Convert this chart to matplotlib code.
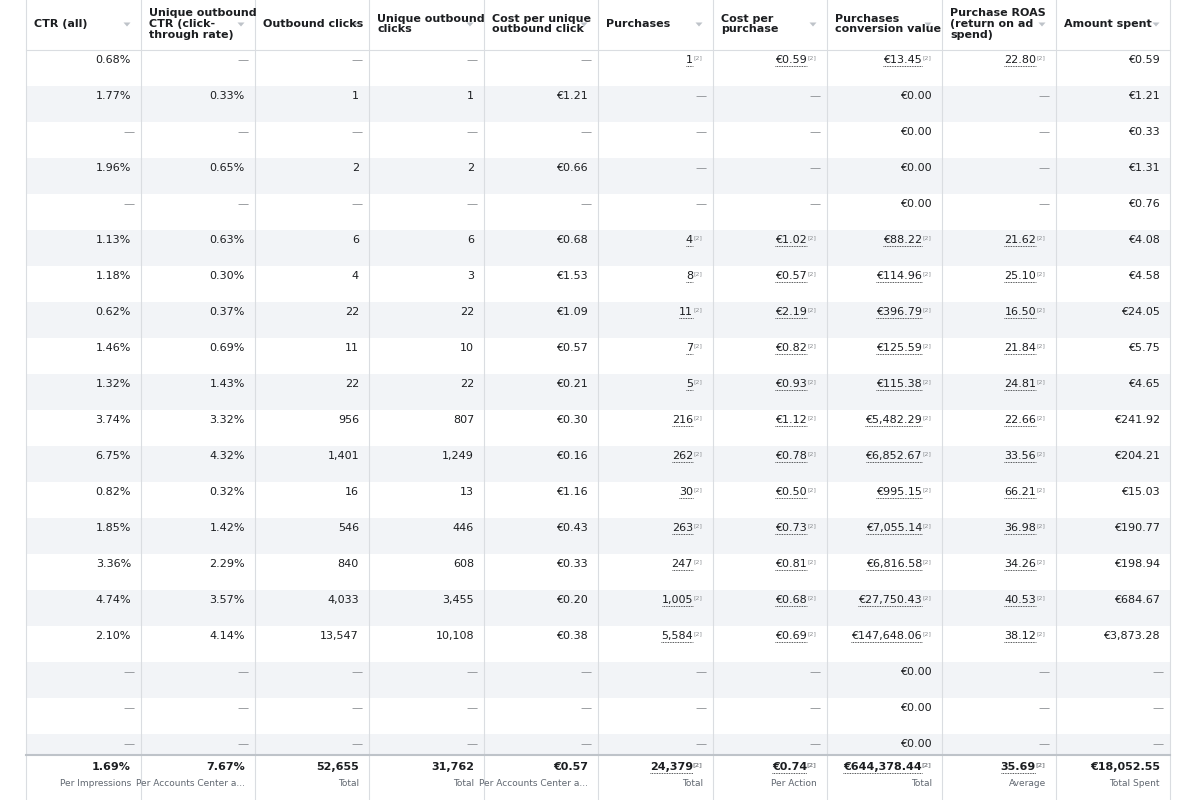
import matplotlib
matplotlib.use("Agg")
import matplotlib.pyplot as plt

# ---------------- DATA ----------------
headers = ["CTR (all)", "Unique outbound\nCTR (click-\nthrough rate)", "Outbound clicks",
           "Unique outbound\nclicks", "Cost per unique\noutbound click", "Purchases",
           "Cost per\npurchase", "Purchases\nconversion value",
           "Purchase ROAS\n(return on ad\nspend)", "Amount spent"]

D = "—"
ctr_all = ["0.68%", "1.77%", D, "1.96%", D, "1.13%", "1.18%", "0.62%", "1.46%", "1.32%",
           "3.74%", "6.75%", "0.82%", "1.85%", "3.36%", "4.74%", "2.10%", D, D, D]
uniq_ctr = [D, "0.33%", D, "0.65%", D, "0.63%", "0.30%", "0.37%", "0.69%", "1.43%",
            "3.32%", "4.32%", "0.32%", "1.42%", "2.29%", "3.57%", "4.14%", D, D, D]
out_clicks = [D, "1", D, "2", D, "6", "4", "22", "11", "22", "956", "1,401", "16", "546",
              "840", "4,033", "13,547", D, D, D]
uniq_out = [D, "1", D, "2", D, "6", "3", "22", "10", "22", "807", "1,249", "13", "446",
            "608", "3,455", "10,108", D, D, D]
cost_uniq = [D, "€1.21", D, "€0.66", D, "€0.68", "€1.53", "€1.09", "€0.57", "€0.21",
             "€0.30", "€0.16", "€1.16", "€0.43", "€0.33", "€0.20", "€0.38", D, D, D]
purchases = ["1", D, D, D, D, "4", "8", "11", "7", "5", "216", "262", "30", "263", "247",
             "1,005", "5,584", D, D, D]
cost_purch = ["€0.59", D, D, D, D, "€1.02", "€0.57", "€2.19", "€0.82", "€0.93", "€1.12",
              "€0.78", "€0.50", "€0.73", "€0.81", "€0.68", "€0.69", D, D, D]
conv_value = ["€13.45", "€0.00", "€0.00", "€0.00", "€0.00", "€88.22", "€114.96", "€396.79",
              "€125.59", "€115.38", "€5,482.29", "€6,852.67", "€995.15", "€7,055.14",
              "€6,816.58", "€27,750.43", "€147,648.06", "€0.00", "€0.00", "€0.00"]
roas = ["22.80", D, D, D, D, "21.62", "25.10", "16.50", "21.84", "24.81", "22.66", "33.56",
        "66.21", "36.98", "34.26", "40.53", "38.12", D, D, D]
spent = ["€0.59", "€1.21", "€0.33", "€1.31", "€0.76", "€4.08", "€4.58", "€24.05", "€5.75",
         "€4.65", "€241.92", "€204.21", "€15.03", "€190.77", "€198.94", "€684.67",
         "€3,873.28", D, D, D]
columns = [ctr_all, uniq_ctr, out_clicks, uniq_out, cost_uniq, purchases, cost_purch,
           conv_value, roas, spent]
linked = [False, False, False, False, False, True, True, True, True, False]

totals = ["1.69%", "7.67%", "52,655", "31,762", "€0.57", "24,379", "€0.74", "€644,378.44",
          "35.69", "€18,052.55"]
total_sub = ["Per Impressions", "Per Accounts Center a...", "Total", "Total",
             "Per Accounts Center a...", "Total", "Per Action", "Total", "Average",
             "Total Spent"]

# ---------------- LAYOUT ----------------
col_x = [26, 141, 255, 369, 484, 598, 713, 827, 942, 1056, 1170]
row_h = 36
first_y = 50
foot_y = 755
txt = "#1c1e21"
grey = "#8a8d91"
line_c = "#dadde1"

fig = plt.figure(figsize=(12, 8), dpi=100)
ax = fig.add_axes([0, 0, 1, 1])
ax.set_xlim(0, 1200)
ax.set_ylim(800, 0)
ax.axis("off")

# row shading
for i in range(len(ctr_all)):
    y0 = first_y + i * row_h
    if i % 2 == 1:
        ax.fill_between([col_x[0], col_x[-1]], y0, min(y0 + row_h, foot_y),
                        color="#f2f4f7", lw=0)
ax.fill_between([col_x[0], col_x[-1]], foot_y, 800, color="white", lw=0)

# vertical lines
for x in col_x:
    ax.plot([x, x], [0, 800], color=line_c, lw=0.8)
ax.plot([col_x[0], col_x[-1]], [first_y, first_y], color=line_c, lw=0.8)
ax.plot([col_x[0], col_x[-1]], [foot_y, foot_y], color="#bec3c9", lw=1.5)

# headers
for j, h in enumerate(headers):
    ax.text(col_x[j] + 8, 24, h, ha="left", va="center", fontsize=8, fontweight="bold",
            color=txt, linespacing=1.1)
    xr = col_x[j + 1] - 14
    ax.plot([xr - 3, xr, xr + 3], [23, 26, 23], color="#bec3c9", lw=0)
    ax.fill([xr - 3.5, xr + 3.5, xr], [22.5, 22.5, 26.5], color="#bec3c9", lw=0)

fig.canvas.draw()
rend = fig.canvas.get_renderer()

def cell(xr, y, s, link, bold=False):
    if s == D:
        ax.text(xr, y, s, ha="right", va="center", fontsize=8, color=grey)
        return
    if link and s != "€0.00":
        t = ax.text(xr - 14, y, s, ha="right", va="center", fontsize=8, color=txt,
                    fontweight="bold" if bold else "normal")
        ax.text(xr - 5, y - 2, "[2]", ha="right", va="center", fontsize=4.5, color=grey,
                fontweight="bold" if bold else "normal")
        bb = t.get_window_extent(rend)
        inv = ax.transData.inverted()
        (x0, _), (x1, _) = inv.transform([(bb.x0, 0), (bb.x1, 0)])
        ax.plot([x0, x1], [y + 6, y + 6], color=txt, lw=0.6, ls=(0, (1, 1)))
    else:
        ax.text(xr - 4, y, s, ha="right", va="center", fontsize=8, color=txt,
                fontweight="bold" if bold else "normal")

for j, col in enumerate(columns):
    xr = col_x[j + 1] - 6
    for i, s in enumerate(col):
        y = first_y + 10 + i * row_h
        if y > foot_y - 4:
            continue
        cell(xr, y, s, linked[j])
    cell(xr, 767, totals[j], linked[j], bold=True)
    sub = total_sub[j]
    ax.text(xr - 4, 783, sub, ha="right", va="center", fontsize=6.5, color="#606770")

fig.savefig("out.png", dpi=100)
